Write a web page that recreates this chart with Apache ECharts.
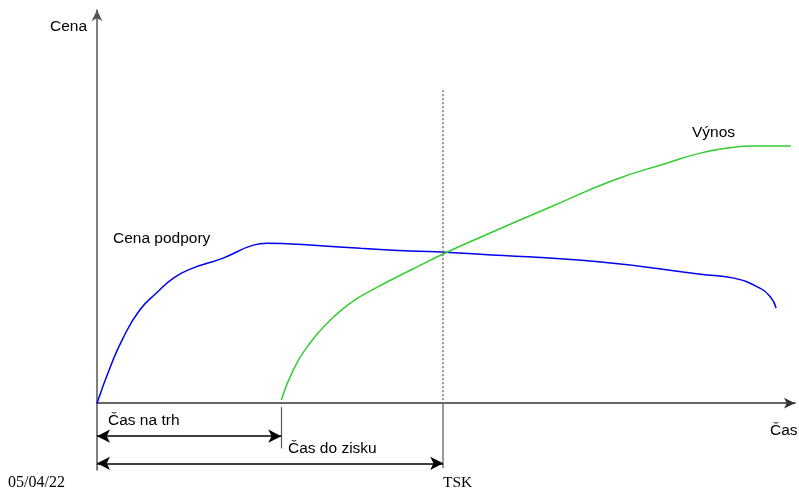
<!DOCTYPE html>
<html>
<head>
<meta charset="utf-8">
<script src="https://cdn.jsdelivr.net/npm/echarts@6/dist/echarts.min.js"></script>
<style>
  html, body { margin: 0; padding: 0; background: #fff; }
  #chart { width: 799px; height: 492px; }
</style>
</head>
<body>
<div id="chart"></div>
<script>
// Support cost over time (blue) and revenue over time (green), in relative units
const supportCost = [
  [0, 0], [1.9, 9.2], [3.7, 16.5], [6.1, 23.7], [8.6, 28.2], [10.9, 31.8],
  [13.3, 34.1], [18.0, 36.9], [22.3, 40.2], [24.3, 40.7], [27.6, 40.5],
  [30.4, 40.2], [37.6, 39.4], [44.7, 38.7], [49.7, 38.4], [54.7, 37.9],
  [71.9, 35.9], [86.1, 32.8], [90.9, 31.8], [94.3, 29.5], [96.1, 27.0], [96.9, 24.2]
];
const revenue = [
  [26.3, 0.8], [28.0, 8.4], [30.4, 15.3], [32.9, 20.4], [36.1, 25.4],
  [40.0, 29.5], [44.7, 33.8], [49.7, 38.2], [54.7, 42.2], [64.7, 49.9],
  [73.7, 56.7], [81.4, 61.1], [86.1, 63.6], [90.9, 65.1], [93.3, 65.4], [99.0, 65.4]
];
// Milestones on the time axis
const timeToMarket = 26.3;   // Čas na trh
const breakEven = 49.4;      // Čas do zisku (TSK)
const breakEvenTop = 79.6;

const chart = echarts.init(document.getElementById('chart'), null, { renderer: 'canvas' });
const font = '"Liberation Sans", Arial, sans-serif';
const serif = '"Liberation Serif", "Times New Roman", serif';

chart.setOption({
  animation: false,
  grid: { left: 97, right: 4, top: 10, bottom: 22 },
  xAxis: {
    type: 'value', min: 0, max: 99.6,
    axisLine: { lineStyle: { color: '#333', width: 1.5 }, symbol: ['none', 'arrow'], symbolSize: [8, 11] },
    axisTick: { show: false }, axisLabel: { show: false }, splitLine: { show: false }
  },
  yAxis: {
    type: 'value', min: -17, max: 100,
    axisLine: { lineStyle: { color: '#555', width: 1.5 }, symbol: ['none', 'arrow'], symbolSize: [8, 11] },
    axisTick: { show: false }, axisLabel: { show: false }, splitLine: { show: false }
  },
  series: [
    {
      name: 'Cena podpory', type: 'line', data: supportCost, smooth: true,
      showSymbol: false, lineStyle: { color: '#0000ee', width: 1.5 }, z: 3
    },
    {
      name: 'Výnos', type: 'line', data: revenue, smooth: true,
      showSymbol: false, lineStyle: { color: '#33cc33', width: 1.5 }, z: 3
    },
    {
      // Milestone guides and span arrows
      type: 'line', data: [], silent: true,
      markLine: {
        silent: true, animation: false, label: { show: false },
        symbol: ['none', 'none'],
        data: [
          [{ coord: [breakEven, breakEvenTop], lineStyle: { type: [2, 2], color: '#777', width: 1.5 } },
           { coord: [breakEven, 0] }],
          [{ coord: [breakEven, 0], lineStyle: { type: 'solid', color: '#777', width: 1.5 } },
           { coord: [breakEven, -16.5] }],
          [{ coord: [timeToMarket, -1], lineStyle: { type: 'solid', color: '#555', width: 1.2 } },
           { coord: [timeToMarket, -11.5] }],
          [{ coord: [0, -8.4], symbol: 'arrow', symbolSize: [10, 13], lineStyle: { type: 'solid', color: '#000', width: 1.5 } },
           { coord: [timeToMarket, -8.4], symbol: 'arrow', symbolSize: [10, 13] }],
          [{ coord: [0, -15.3], symbol: 'arrow', symbolSize: [10, 13], lineStyle: { type: 'solid', color: '#000', width: 1.5 } },
           { coord: [breakEven, -15.3], symbol: 'arrow', symbolSize: [10, 13] }]
        ]
      }
    }
  ],
  graphic: [
    { type: 'text', left: 50, top: 19, style: { text: 'Cena', font: '15.5px ' + font, fill: '#000' } },
    { type: 'text', left: 113, top: 231, style: { text: 'Cena podpory', font: '15.5px ' + font, fill: '#000' } },
    { type: 'text', left: 692, top: 125, style: { text: 'Výnos', font: '15.5px ' + font, fill: '#000' } },
    { type: 'text', left: 770, top: 423, style: { text: 'Čas', font: '15.5px ' + font, fill: '#000' } },
    { type: 'text', left: 108, top: 413, style: { text: 'Čas na trh', font: '15.5px ' + font, fill: '#000' } },
    { type: 'text', left: 288, top: 441, style: { text: 'Čas do zisku', font: '15.5px ' + font, fill: '#000' } },
    { type: 'text', left: 8, top: 475, style: { text: '05/04/22', font: '16px ' + serif, fill: '#000' } },
    { type: 'text', left: 443, top: 475, style: { text: 'TSK', font: '15.5px ' + serif, fill: '#000' } }
  ]
});
</script>
</body>
</html>
